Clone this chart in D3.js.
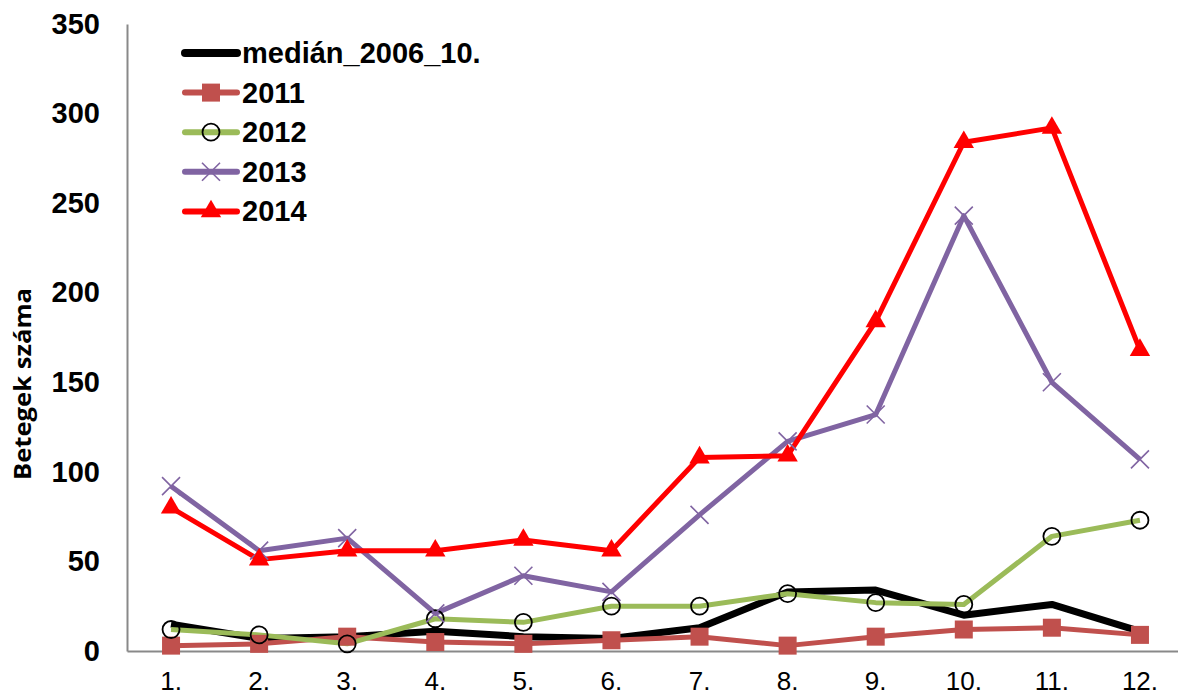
<!DOCTYPE html>
<html lang="hu">
<head>
<meta charset="UTF-8">
<title>Betegek száma</title>
<script src="https://d3js.org/d3.v7.min.js"></script>
<style>
  * { margin: 0; padding: 0; }
  body { background: #fff; font-family: 'Liberation Sans', Arial, sans-serif; }
  .axis text { fill: #000; }
</style>
</head>
<body>
<div id="chart"></div>
<script>
const months = ["1.", "2.", "3.", "4.", "5.", "6.", "7.", "8.", "9.", "10.", "11.", "12."];
const yTicks = [0, 50, 100, 150, 200, 250, 300, 350];

const median = [15, 7, 8, 11, 8, 7, 13, 33, 34, 20, 26, 11];
const y2011 = [3, 4, 8, 5, 4, 6, 8, 3, 8, 12, 13, 9];
const y2012 = [12, 9, 4, 18, 16, 25, 25, 32, 27, 26, 64, 73];
const y2013 = [92, 56, 63, 21, 42, 33, 76, 117, 132, 243, 150, 107];
const y2014 = [80, 51, 56, 56, 62, 56, 108, 109, 184, 284, 292, 168];

const series = [
  { name: "medián_2006_10.", values: median, color: "#000000", width: 7, marker: "none" },
  { name: "2011", values: y2011, color: "#C0504D", width: 5, marker: "square" },
  { name: "2012", values: y2012, color: "#9BBB59", width: 5, marker: "circle" },
  { name: "2013", values: y2013, color: "#8064A2", width: 5, marker: "x" },
  { name: "2014", values: y2014, color: "#FF0000", width: 5, marker: "triangle" }
];

const W = 1178, H = 696;
const margin = { top: 24, right: -6, bottom: 45, left: 127 };
const width = W - margin.left - margin.right;
const height = H - margin.top - margin.bottom;

const svg = d3.select("#chart").append("svg")
  .attr("width", W).attr("height", H);
const g = svg.append("g").attr("transform", `translate(${margin.left},${margin.top})`);

const x = d3.scaleBand().domain(months).range([0, width]);
const cx = d => x(d) + x.bandwidth() / 2;
const y = d3.scaleLinear().domain([0, 350]).range([height, 0]);

// axes
const yAxis = g.append("g").attr("class", "axis")
  .call(d3.axisLeft(y).tickValues(yTicks).tickSize(0).tickPadding(27));
yAxis.select(".domain").attr("stroke", "#898989").attr("stroke-width", 2);
yAxis.selectAll("text").style("font-size", "29px").style("font-weight", "bold");

const xAxis = g.append("g").attr("class", "axis")
  .attr("transform", `translate(0,${height})`)
  .call(d3.axisBottom(x).tickSize(0).tickPadding(21));
xAxis.select(".domain").attr("stroke", "#898989").attr("stroke-width", 2);
xAxis.selectAll("text").style("font-size", "26px");

svg.append("text")
  .attr("transform", `translate(22,384) rotate(-90)`)
  .attr("text-anchor", "middle")
  .attr("dominant-baseline", "central")
  .attr("textLength", 192).attr("lengthAdjust", "spacingAndGlyphs")
  .style("font-family", "'Open Sans', sans-serif")
  .style("font-size", "23px").style("font-weight", "bold")
  .text("Betegek száma");

const line = d3.line().x((d, i) => cx(months[i])).y(d => y(d));

function drawMarker(sel, type, color) {
  if (type === "square") {
    sel.append("rect").attr("x", -9).attr("y", -9).attr("width", 18).attr("height", 18)
      .attr("fill", color);
  } else if (type === "circle") {
    sel.append("circle").attr("r", 8.5).attr("fill", "none")
      .attr("stroke", "#000").attr("stroke-width", 1.8);
  } else if (type === "x") {
    sel.append("path").attr("d", "M-9,-9L9,9M-9,9L9,-9")
      .attr("stroke", color).attr("stroke-width", 1.6);
  } else if (type === "triangle") {
    sel.append("path").attr("d", d3.symbol().type(d3.symbolTriangle).size(180)())
      .attr("fill", color);
  }
}

series.forEach(s => {
  g.append("path").datum(s.values)
    .attr("fill", "none").attr("stroke", s.color)
    .attr("stroke-width", s.width).attr("stroke-linejoin", "round")
    .attr("d", line);
});

series.forEach(s => {
  if (s.marker === "none") return;
  g.selectAll(null).data(s.values).join("g")
    .attr("transform", (d, i) => `translate(${cx(months[i])},${y(d)})`)
    .each(function () { drawMarker(d3.select(this), s.marker, s.color); });
});

// legend
const legend = svg.append("g").attr("transform", "translate(185,53)");
series.forEach((s, i) => {
  const row = legend.append("g").attr("transform", `translate(0,${i * 39.6})`);
  row.append("line").attr("x1", 0).attr("x2", 52)
    .attr("stroke", s.color).attr("stroke-width", s.width + 1)
    .attr("stroke-linecap", "round");
  if (s.marker !== "none") {
    const m = row.append("g").attr("transform", "translate(26,0)");
    drawMarker(m, s.marker, s.color);
  }
  row.append("text").attr("x", 57).attr("y", 10)
    .style("font-size", "29px").style("font-weight", "bold")
    .text(s.name);
});
</script>
</body>
</html>
